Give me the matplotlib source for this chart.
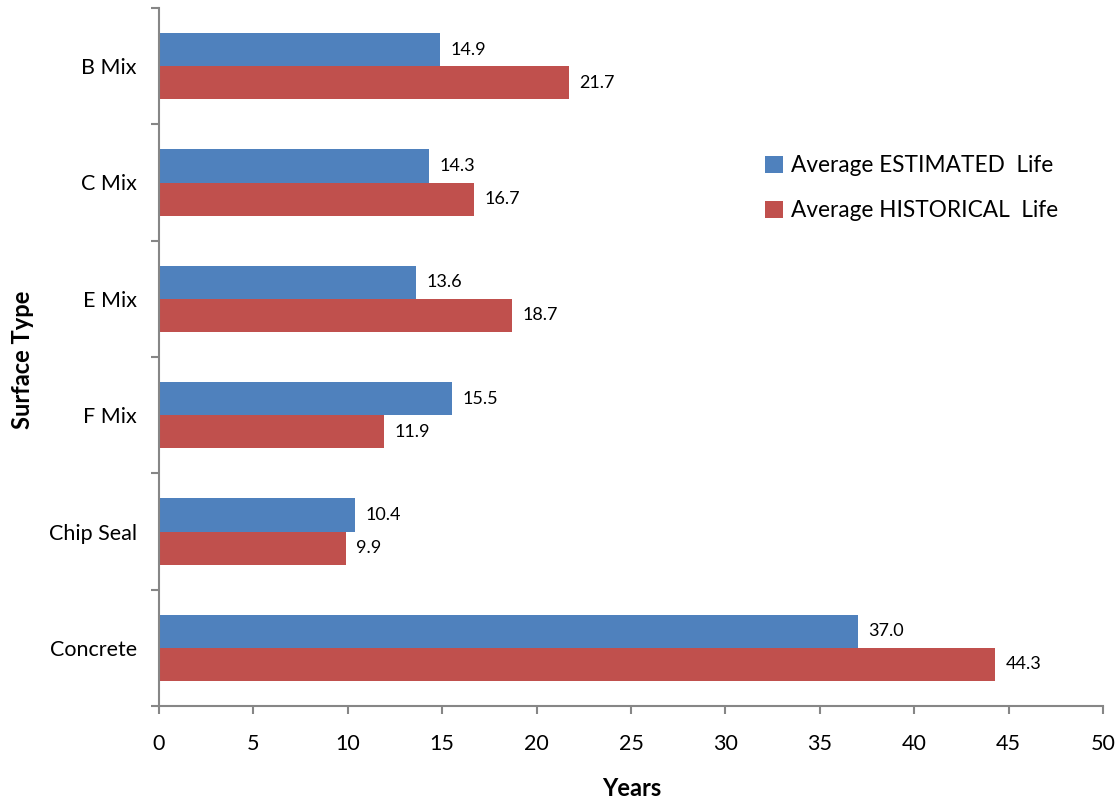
import matplotlib
matplotlib.use("Agg")
import matplotlib.pyplot as plt
import numpy as np

plt.rcParams['font.family'] = ['Lato', 'DejaVu Sans']

categories = ["Concrete", "Chip Seal", "F Mix", "E Mix", "C Mix", "B Mix"]
estimated = [37.0, 10.4, 15.5, 13.6, 14.3, 14.9]
historical = [44.3, 9.9, 11.9, 18.7, 16.7, 21.7]
series_names = ["Average ESTIMATED  Life", "Average HISTORICAL  Life"]
x_ticks = [0, 5, 10, 15, 20, 25, 30, 35, 40, 45, 50]

blue = "#4F81BD"
red = "#C0504D"
axis_gray = "#868686"

fig = plt.figure(figsize=(11.2, 7.99), dpi=100)
ax = fig.add_axes([159/1120, 1-706/799, (1103-159)/1120, (706-8)/799])

y = np.arange(len(categories))
h = 0.285
b1 = ax.barh(y + h/2, estimated, height=h, color=blue, label=series_names[0], edgecolor='none')
b2 = ax.barh(y - h/2, historical, height=h, color=red, label=series_names[1], edgecolor='none')

for bars, vals in ((b1, estimated), (b2, historical)):
    for bar, v in zip(bars, vals):
        ax.text(bar.get_width() + 0.55, bar.get_y() + bar.get_height()/2, f"{v:.1f}",
                va='center', ha='left', fontsize=13, color='black')

ax.set_xlim(0, 50)
ax.set_ylim(-0.5, len(categories) - 0.5)
ax.set_xticks(x_ticks)
ax.set_xticklabels([str(t) for t in x_ticks], fontsize=15.5)
ax.set_yticks(y)
ax.set_yticklabels(categories, fontsize=15.5)
ax.set_yticks(np.arange(-0.5, len(categories), 1.0), minor=True)
ax.tick_params(axis='y', which='major', length=0, pad=16)
ax.tick_params(axis='y', which='minor', length=6, color=axis_gray, width=1.5)
ax.tick_params(axis='x', which='major', length=6, color=axis_gray, width=1.5, pad=14)

for s in ['top', 'right']:
    ax.spines[s].set_visible(False)
for s in ['left', 'bottom']:
    ax.spines[s].set_color(axis_gray)
    ax.spines[s].set_linewidth(1.5)

ax.set_xlabel("Years", fontsize=17, fontweight='bold')
ax.set_ylabel("Surface Type", fontsize=17, fontweight='bold')
ax.xaxis.set_label_coords((632 - 159) / 944, -(788 - 706) / 698)
ax.yaxis.set_label_coords(-(159 - 22) / 944, (706 - 360) / 698)
ax.xaxis.label.set_verticalalignment('center')
ax.yaxis.label.set_verticalalignment('center')

leg = ax.legend(loc='upper left', bbox_to_anchor=(0.63, 0.805), frameon=False,
                fontsize=16.3, handlelength=0.8, handleheight=0.8, handletextpad=0.35,
                labelspacing=1.05, borderpad=0)

fig.savefig("out.png", dpi=100)
